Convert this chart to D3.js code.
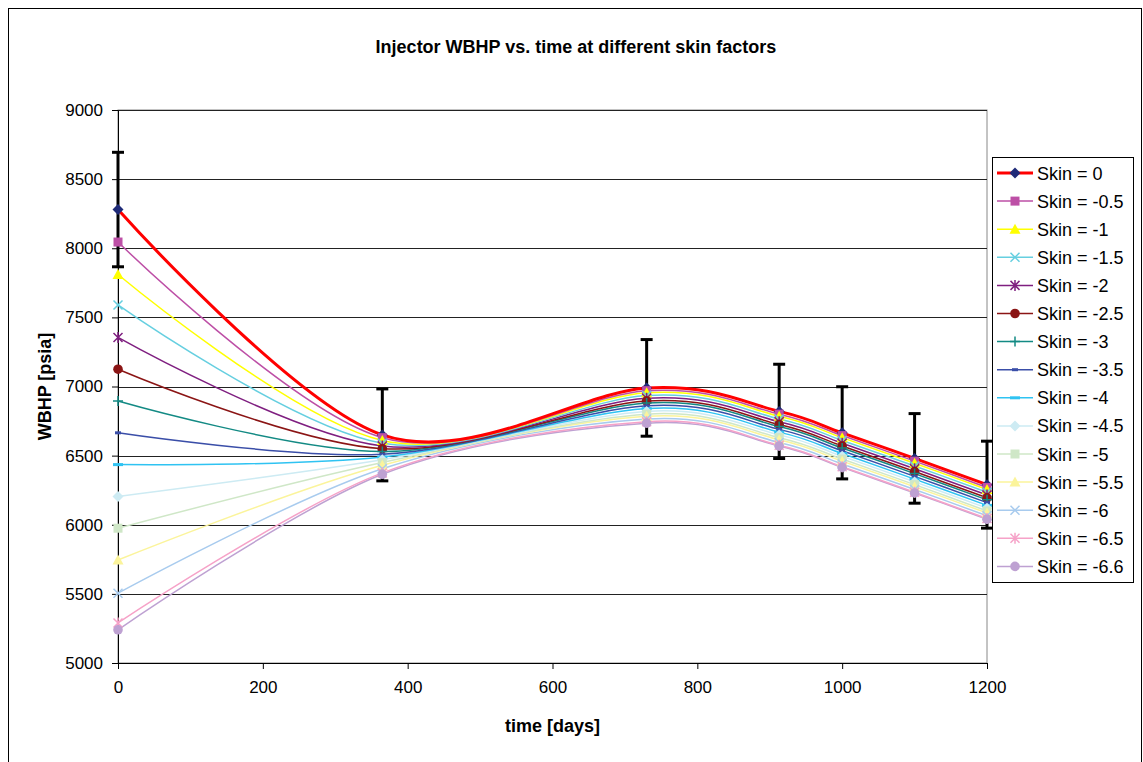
<!DOCTYPE html>
<html>
<head>
<meta charset="utf-8">
<script src="https://cdn.jsdelivr.net/npm/d3@7"></script>
<style>
  body { margin: 0; background: #fff; }
  svg { display: block; font-family: "Liberation Sans", Arial, sans-serif; }
</style>
</head>
<body>
<div id="chart"></div>
<script>
// data ////////////////////////////////////////
var days = [0, 365, 730, 913, 1000, 1100, 1200];

var skinLabels = ["Skin = 0", "Skin = -0.5", "Skin = -1", "Skin = -1.5", "Skin = -2",
  "Skin = -2.5", "Skin = -3", "Skin = -3.5", "Skin = -4", "Skin = -4.5",
  "Skin = -5", "Skin = -5.5", "Skin = -6", "Skin = -6.5", "Skin = -6.6"];

var skin0   = [8280, 6650, 6990, 6820, 6665, 6480, 6290];
var skinM05 = [8045, 6630, 6970, 6800, 6645, 6460, 6270];
var skinM1  = [7810, 6610, 6955, 6785, 6630, 6445, 6255];
var skinM15 = [7590, 6590, 6935, 6765, 6610, 6425, 6235];
var skinM2  = [7355, 6570, 6915, 6745, 6590, 6405, 6215];
var skinM25 = [7125, 6550, 6895, 6725, 6570, 6385, 6195];
var skinM3  = [6895, 6530, 6880, 6710, 6555, 6370, 6180];
var skinM35 = [6665, 6510, 6860, 6690, 6535, 6350, 6160];
var skinM4  = [6435, 6490, 6840, 6670, 6515, 6330, 6140];
var skinM45 = [6205, 6470, 6820, 6650, 6495, 6310, 6120];
var skinM5  = [5975, 6450, 6800, 6630, 6475, 6290, 6100];
var skinM55 = [5745, 6430, 6785, 6615, 6460, 6275, 6085];
var skinM6  = [5505, 6405, 6765, 6595, 6440, 6255, 6065];
var skinM65 = [5290, 6375, 6745, 6575, 6420, 6235, 6045];
var skinM66 = [5240, 6365, 6735, 6570, 6415, 6230, 6040];

var xTicks = [0, 200, 400, 600, 800, 1000, 1200];
var yTicks = [5000, 5500, 6000, 6500, 7000, 7500, 8000, 8500, 9000];

// Excel style percentage error bars on the first series
var errorPercent = 5;

var allSeries = [skin0, skinM05, skinM1, skinM15, skinM2, skinM25, skinM3, skinM35,
  skinM4, skinM45, skinM5, skinM55, skinM6, skinM65, skinM66];

// styles ///////////////////////////////////////
var lineColors = ["#ff0000", "#bd4fa6", "#ffff00", "#66cfe0", "#7f1f80", "#8b1515", "#138a84",
  "#3a4ea8", "#2fc3f2", "#cdebf3", "#cfe7c7", "#fbf49b", "#a8cbee", "#f6a2c8", "#bea1d2"];
var markerColors = ["#1f2a78", "#bd4fa6", "#ffff00", "#66cfe0", "#7f1f80", "#8b1515", "#138a84",
  "#3a4ea8", "#2fc3f2", "#cdebf3", "#cfe7c7", "#fbf49b", "#a8cbee", "#f6a2c8", "#bea1d2"];
var markerTypes = ["diamond", "square", "triangle", "x", "star", "circle", "plus",
  "dash", "bar", "diamond", "square", "triangle", "x", "star", "circle"];

var W = 1143, H = 762;
var margin = {top: 110, right: 156, bottom: 99, left: 118};
var plotW = W - margin.left - margin.right,
    plotH = H - margin.top - margin.bottom;

var svg = d3.select("#chart").append("svg")
  .attr("width", W).attr("height", H);

// outer chart border
svg.append("rect")
  .attr("x", 8.5).attr("y", 8.5).attr("width", W - 10).attr("height", H + 20)
  .style("fill", "none").style("stroke", "#000").style("stroke-width", 1);

var xScale = d3.scaleLinear().domain([0, 1200]).range([0, plotW]);
var yScale = d3.scaleLinear().domain([5000, 9000]).range([plotH, 0]);

var g = svg.append("g")
  .attr("transform", "translate(" + margin.left + "," + margin.top + ")");

// plot area border
g.append("rect")
  .attr("x", 0).attr("y", 0).attr("width", plotW).attr("height", plotH)
  .style("fill", "none").style("stroke", "#888").style("stroke-width", 1);

// gridlines
g.selectAll(".grid").data(yTicks.slice(1)).enter().append("line")
  .attr("class", "grid")
  .attr("x1", 0).attr("x2", plotW)
  .attr("y1", function(d) { return Math.round(yScale(d)) + 0.5; })
  .attr("y2", function(d) { return Math.round(yScale(d)) + 0.5; })
  .style("stroke", "#222").style("stroke-width", 1);

// axes
var xAxis = d3.axisBottom(xScale).tickValues(xTicks).tickFormat(d3.format("d"))
  .tickSize(6).tickSizeOuter(0).tickPadding(12);
var yAxis = d3.axisLeft(yScale).tickValues(yTicks).tickFormat(d3.format("d"))
  .tickSize(6).tickSizeOuter(0).tickPadding(9);

var xAxisEl = g.append("g").attr("transform", "translate(0," + plotH + ")").call(xAxis);
var yAxisEl = g.append("g").call(yAxis);

[xAxisEl, yAxisEl].forEach(function(el) {
  el.select(".domain").style("stroke", "#000");
  el.selectAll(".tick line").style("stroke", "#000");
  el.selectAll(".tick text").style("font-size", "17px").style("fill", "#000")
    .style("font-family", "Liberation Sans, Arial, sans-serif");
});

// titles
svg.append("text")
  .attr("x", 576).attr("y", 53)
  .attr("text-anchor", "middle")
  .style("font-size", "18px").style("font-weight", "bold")
  .text("Injector WBHP vs. time at different skin factors");

svg.append("text")
  .attr("x", margin.left + plotW / 2).attr("y", 732)
  .attr("text-anchor", "middle")
  .style("font-size", "18px").style("font-weight", "bold")
  .text("time [days]");

svg.append("text")
  .attr("transform", "translate(51," + (margin.top + plotH / 2) + ") rotate(-90)")
  .attr("text-anchor", "middle")
  .style("font-size", "18px").style("font-weight", "bold")
  .text("WBHP [psia]");

// error bars on skin 0
var errG = g.append("g");
days.forEach(function(d, i) {
  var v = skin0[i], e = v * errorPercent / 100;
  var x = xScale(d);
  errG.append("line")
    .attr("x1", x).attr("x2", x)
    .attr("y1", yScale(v + e)).attr("y2", yScale(v - e))
    .style("stroke", "#000").style("stroke-width", 3);
  [v + e, v - e].forEach(function(c) {
    errG.append("line")
      .attr("x1", x - 6).attr("x2", x + 6)
      .attr("y1", yScale(c)).attr("y2", yScale(c))
      .style("stroke", "#000").style("stroke-width", 3);
  });
});

// smoothed lines
var line = d3.line()
  .x(function(d, i) { return xScale(days[i]); })
  .y(function(d) { return yScale(d); })
  .curve(d3.curveCardinal.tension(0));

var lineG = g.append("g");
for (var s = allSeries.length - 1; s >= 0; s--) {
  lineG.append("path")
    .datum(allSeries[s])
    .attr("d", line)
    .style("fill", "none")
    .style("stroke", lineColors[s])
    .style("stroke-width", s == 0 ? 3 : 1.5);
}

// marker drawing
function drawMarker(sel, type, color, x, y) {
  var m = sel.append("g").attr("transform", "translate(" + x + "," + y + ")");
  if (type == "diamond") {
    m.append("path").attr("d", "M0,-5.5L5.5,0L0,5.5L-5.5,0Z").style("fill", color);
  } else if (type == "square") {
    m.append("rect").attr("x", -4.5).attr("y", -4.5).attr("width", 9).attr("height", 9).style("fill", color);
  } else if (type == "triangle") {
    m.append("path").attr("d", "M0,-5.5L5.5,4.5L-5.5,4.5Z").style("fill", color);
  } else if (type == "circle") {
    m.append("circle").attr("r", 4.8).style("fill", color);
  } else if (type == "x") {
    m.append("path").attr("d", "M-4.5,-4.5L4.5,4.5M-4.5,4.5L4.5,-4.5")
      .style("stroke", color).style("stroke-width", 1.5);
  } else if (type == "star") {
    m.append("path").attr("d", "M-4.5,-4.5L4.5,4.5M-4.5,4.5L4.5,-4.5M0,-5.5L0,5.5")
      .style("stroke", color).style("stroke-width", 1.5);
  } else if (type == "plus") {
    m.append("path").attr("d", "M-5,0L5,0M0,-5L0,5")
      .style("stroke", color).style("stroke-width", 1.5);
  } else if (type == "dash") {
    m.append("rect").attr("x", -3).attr("y", -1.5).attr("width", 6).attr("height", 3).style("fill", color);
  } else if (type == "bar") {
    m.append("rect").attr("x", -5).attr("y", -1.5).attr("width", 10).attr("height", 3).style("fill", color);
  }
}

var markG = g.append("g");
allSeries.forEach(function(series, s) {
  series.forEach(function(v, i) {
    drawMarker(markG, markerTypes[s], markerColors[s], xScale(days[i]), yScale(v));
  });
});

// legend
var legX = 992, legY = 157, legW = 141, legH = 425, legStep = 28.1;
var leg = svg.append("g");
leg.append("rect")
  .attr("x", legX + 0.5).attr("y", legY + 0.5).attr("width", legW).attr("height", legH)
  .style("fill", "#fff").style("stroke", "#000").style("stroke-width", 1);

skinLabels.forEach(function(lbl, s) {
  var cy = legY + 16 + s * legStep;
  leg.append("line")
    .attr("x1", legX + 5).attr("x2", legX + 41)
    .attr("y1", cy).attr("y2", cy)
    .style("stroke", lineColors[s]).style("stroke-width", s == 0 ? 3 : 1.5);
  drawMarker(leg, markerTypes[s], markerColors[s], legX + 23, cy);
  leg.append("text")
    .attr("x", legX + 45).attr("y", cy + 6.5)
    .style("font-size", "18px")
    .text(lbl);
});
</script>
</body>
</html>
